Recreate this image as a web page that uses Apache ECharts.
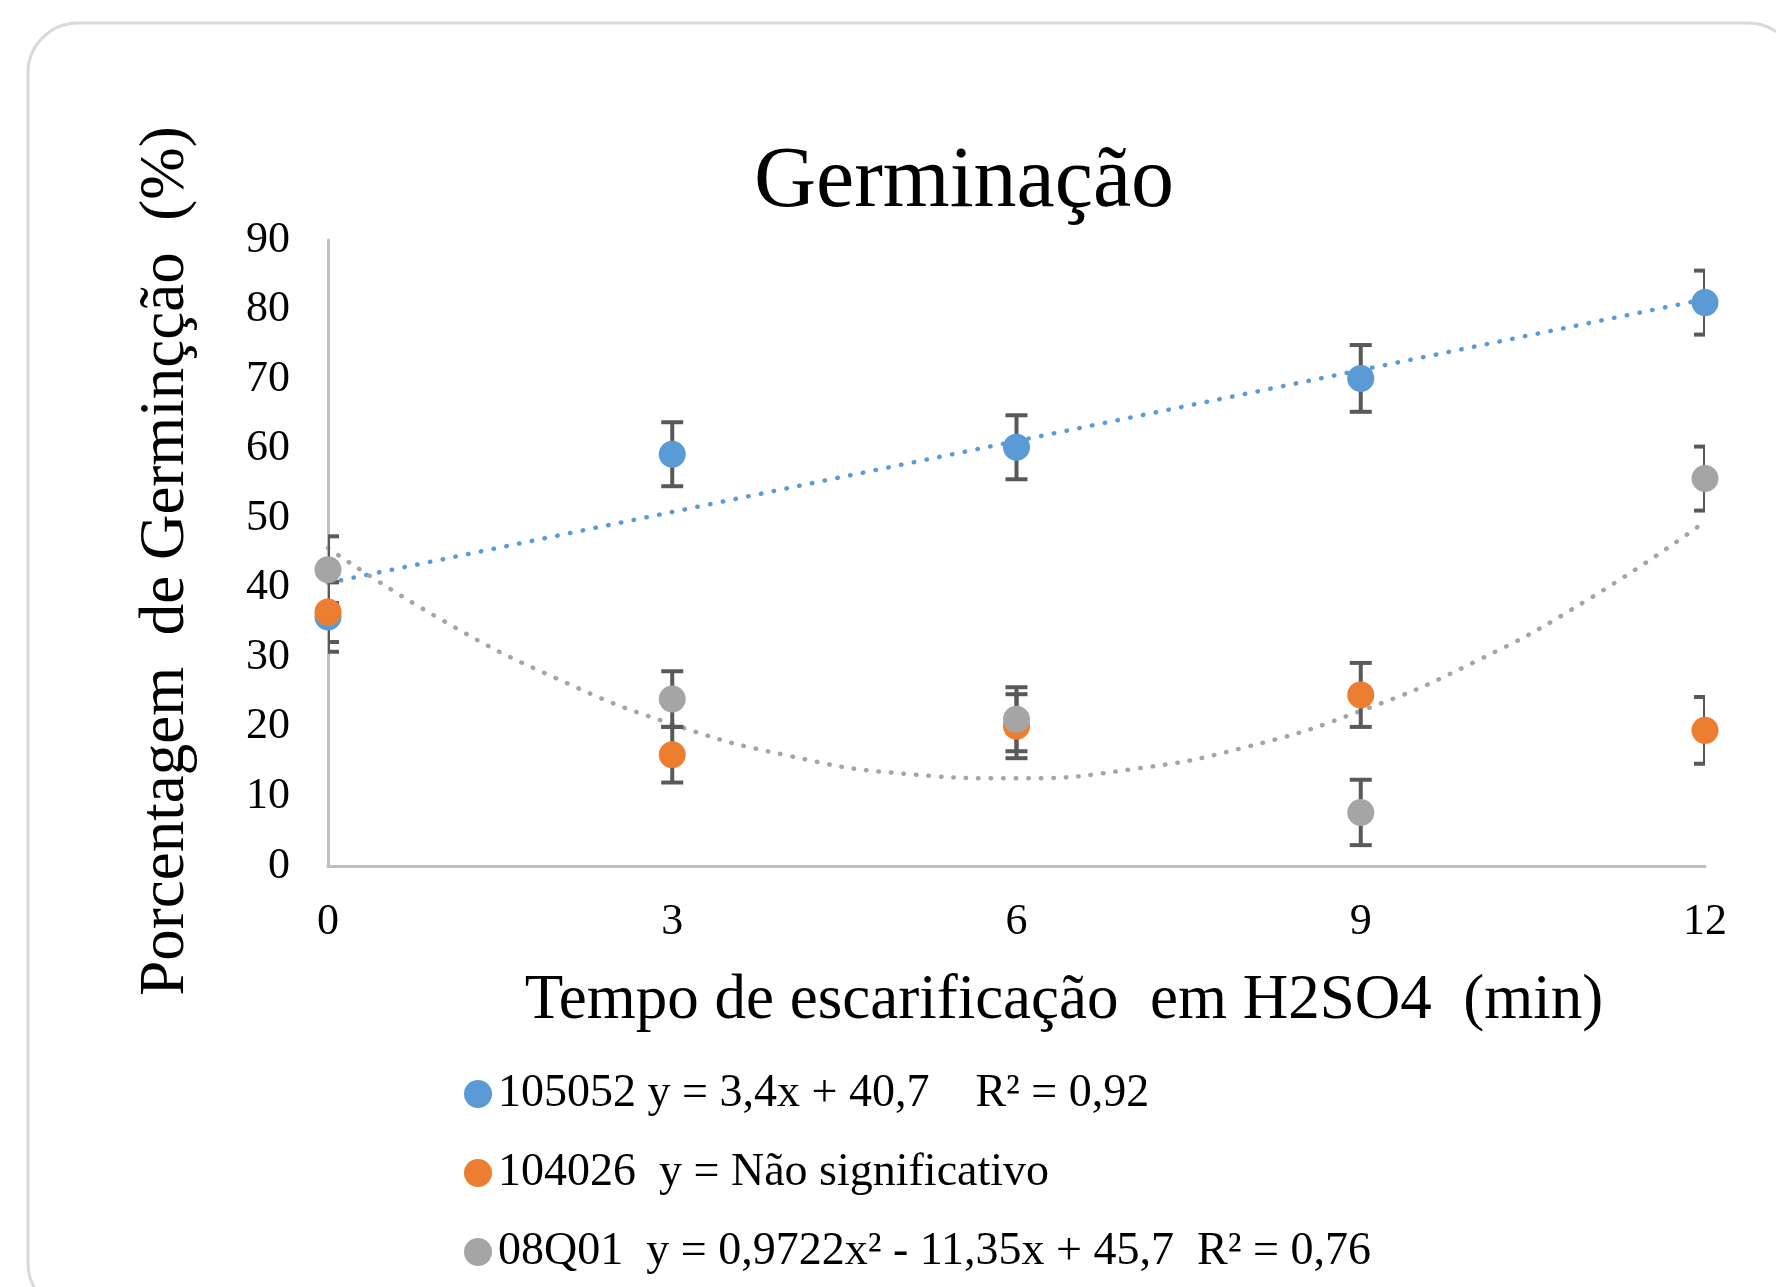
<!DOCTYPE html>
<html>
<head>
<meta charset="utf-8">
<script src="https://cdn.jsdelivr.net/npm/echarts@6/dist/echarts.min.js"></script>
<style>
html,body{margin:0;padding:0;background:#fff;}
#chart{width:1776px;height:1287px;}
</style>
</head>
<body>
<div id="chart"></div>
<script>
// ---- data ----
var times = [0, 3, 6, 9, 12];
var blueValues = [35.8, 59.2, 60.2, 70.1, 81.0];
var blueErrors = [5.0, 4.6, 4.6, 4.8, 4.6];
var orangeValues = [36.5, 16.0, 20.1, 24.6, 19.5];
var orangeErrors = [4.3, 4.0, 4.6, 4.6, 4.8];
var greyValues = [42.6, 24.0, 21.1, 7.7, 55.7];
var greyErrors = [4.8, 4.0, 4.6, 4.7, 4.6];
// trend lines as seen in the picture
var blueTrendX = [0, 12];
var blueTrendY = [40.7, 81.5];
var greyTrendX = [0, 1, 2, 3, 4, 5, 6, 7, 8, 9, 10, 11, 12];
var greyTrendY = [45.7, 35.3, 26.9, 20.4, 15.9, 13.3, 12.6, 13.9, 17.1, 22.3, 29.4, 38.5, 49.5];
var xTicks = [0, 3, 6, 9, 12];
var yTicks = [0, 10, 20, 30, 40, 50, 60, 70, 80, 90];
var seriesNames = ['105052 y = 3,4x + 40,7    R\u00b2 = 0,92', '104026  y = N\u00e3o significativo', '08Q01  y = 0,9722x\u00b2 - 11,35x + 45,7  R\u00b2 = 0,76'];
var titleText = 'Germina\u00e7\u00e3o';
var xName = 'Tempo de escarifica\u00e7\u00e3o  em H2SO4  (min)';
var yName = 'Porcentagem  de Germin\u00e7\u00e7\u00e3o  (%)';

var FONT = "'Liberation Serif', 'Times New Roman', serif";
var BLUE = '#5b9bd5', ORANGE = '#ed7d31', GREY = '#a5a5a5', ERR = '#595959';

function pairs(xs, ys) { return xs.map(function (x, i) { return [x, ys[i]]; }); }
function errData(xs, ys, es) { return xs.map(function (x, i) { return [x, ys[i] - es[i], ys[i] + es[i]]; }); }

function errSeries(xs, ys, es) {
  return {
    type: 'custom', z: 3, clip: true, silent: true,
    data: errData(xs, ys, es),
    encode: { x: 0, y: [1, 2] },
    renderItem: function (params, api) {
      var x = api.value(0);
      var lo = api.coord([x, api.value(1)]);
      var hi = api.coord([x, api.value(2)]);
      var hw = 11;
      var st = { stroke: ERR, lineWidth: 4 };
      return {
        type: 'group',
        children: [
          { type: 'line', shape: { x1: lo[0], y1: lo[1], x2: hi[0], y2: hi[1] }, style: st },
          { type: 'line', shape: { x1: lo[0] - hw, y1: lo[1], x2: lo[0] + hw, y2: lo[1] }, style: st },
          { type: 'line', shape: { x1: hi[0] - hw, y1: hi[1], x2: hi[0] + hw, y2: hi[1] }, style: st }
        ]
      };
    }
  };
}

var chart = echarts.init(document.getElementById('chart'), null, { renderer: 'canvas' });
var option = {
  backgroundColor: '#ffffff',
  animation: false,
  textStyle: { fontFamily: FONT },
  grid: { left: 328, right: 71, top: 240, bottom: 421, containLabel: false },
  xAxis: {
    type: 'value', min: xTicks[0], max: xTicks[xTicks.length - 1], interval: 3,
    axisLine: { show: true, lineStyle: { color: '#bfbfbf', width: 3 } },
    axisTick: { show: false }, splitLine: { show: false },
    axisLabel: { margin: 34, fontSize: 44, color: '#000', fontFamily: FONT }
  },
  yAxis: {
    type: 'value', min: yTicks[0], max: yTicks[yTicks.length - 1], interval: 10,
    axisLine: { show: true, lineStyle: { color: '#bfbfbf', width: 3 } },
    axisTick: { show: false }, splitLine: { show: false },
    axisLabel: { margin: 38, fontSize: 44, color: '#000', fontFamily: FONT }
  },
  legend: {
    orient: 'vertical', left: 459, top: 1066, itemGap: 33,
    itemWidth: 28, itemHeight: 28, icon: 'circle',
    data: seriesNames,
    textStyle: { fontSize: 46, color: '#000', fontFamily: FONT, padding: [0, 0, 0, 1] }
  },
  graphic: [
    { type: 'rect', z: -10, silent: true, shape: { x: 28, y: 23, width: 1770, height: 1290, r: 50 },
      style: { fill: 'none', stroke: '#d9d9d9', lineWidth: 3 } },
    { type: 'text', x: 964, y: 183, silent: true,
      style: { text: titleText, font: '86px ' + FONT, fill: '#000', textAlign: 'center', textVerticalAlign: 'middle' } },
    { type: 'text', x: 1064, y: 1001, silent: true,
      style: { text: xName, font: '63px ' + FONT, fill: '#000', textAlign: 'center', textVerticalAlign: 'middle' } },
    { type: 'text', x: 166, y: 561, rotation: Math.PI / 2, silent: true,
      style: { text: yName, font: '63px ' + FONT, fill: '#000', textAlign: 'center', textVerticalAlign: 'middle' } }
  ],
  series: [
    { name: 'trend-blue', type: 'line', z: 2, data: pairs(blueTrendX, blueTrendY), showSymbol: false, silent: true,
      lineStyle: { color: BLUE, width: 4.5, type: [0.5, 12.5], cap: 'round' } },
    { name: 'trend-grey', type: 'line', z: 2, smooth: true, data: pairs(greyTrendX, greyTrendY), showSymbol: false, silent: true,
      lineStyle: { color: GREY, width: 4.5, type: [0.5, 12], cap: 'round' } },
    errSeries(times, blueValues, blueErrors),
    errSeries(times, orangeValues, orangeErrors),
    errSeries(times, greyValues, greyErrors),
    { name: seriesNames[0], type: 'scatter', z: 5, symbol: 'circle', symbolSize: 27, clip: false,
      itemStyle: { color: BLUE, opacity: 1 }, data: pairs(times, blueValues) },
    { name: seriesNames[1], type: 'scatter', z: 5, symbol: 'circle', symbolSize: 27, clip: false,
      itemStyle: { color: ORANGE, opacity: 1 }, data: pairs(times, orangeValues) },
    { name: seriesNames[2], type: 'scatter', z: 5, symbol: 'circle', symbolSize: 27, clip: false,
      itemStyle: { color: GREY, opacity: 1 }, data: pairs(times, greyValues) }
  ]
};
chart.setOption(option);
</script>
</body>
</html>
